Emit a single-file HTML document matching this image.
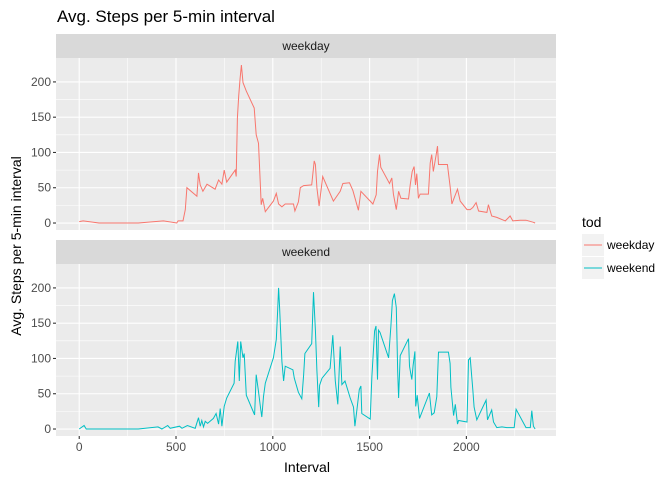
<!DOCTYPE html>
<html><head><meta charset="utf-8"><style>
body{margin:0;background:#fff;font-family:"Liberation Sans",Arial,sans-serif}
svg text{font-family:"Liberation Sans",Arial,sans-serif}
</style></head><body>
<svg id="c" width="672" height="480" xmlns="http://www.w3.org/2000/svg">
<rect width="672" height="480" fill="#fff"/>
<text x="57" y="22" font-size="17" fill="#000">Avg. Steps per 5-min interval</text>
<g id="panels"></g>
<text x="307" y="472" font-size="14" text-anchor="middle" fill="#000">Interval</text>
<text transform="translate(21,246) rotate(-90)" font-size="14" text-anchor="middle" fill="#000">Avg. Steps per 5-min interval</text>
<g>
<text x="582" y="227" font-size="14" fill="#000">tod</text>
<g>
<rect x="582" y="234" width="22" height="22" fill="#f2f2f2"/>
<line x1="584" x2="602" y1="245" y2="245" stroke="#F8766D" stroke-width="1"/>
<text x="607" y="249" font-size="12" fill="#000">weekday</text></g>
<g>
<rect x="582" y="257" width="22" height="22" fill="#f2f2f2"/>
<line x1="584" x2="602" y1="268" y2="268" stroke="#00BFC4" stroke-width="1"/>
<text x="607" y="272" font-size="12" fill="#000">weekend</text></g>
</g>
</svg>
<script>
const facets=["weekday","weekend"];
const xTicks=[0,500,1000,1500,2000];
const yTicks=[0,50,100,150,200];
const weekdayIntervals=[0,20,102,203,305,435,504,511,536,548,556,608,616,625,639,660,702,720,737,749,762,806,811,817,824,831,838,846,863,904,914,926,935,940,948,961,1003,1018,1030,1047,1064,1107,1114,1132,1142,1159,1201,1214,1220,1228,1239,1258,1313,1348,1362,1396,1414,1442,1455,1503,1517,1534,1541,1551,1558,1603,1615,1623,1638,1650,1662,1701,1710,1720,1730,1737,1744,1752,1761,1804,1813,1821,1829,1844,1851,1856,1902,1916,1925,1936,1954,1968,2003,2020,2033,2050,2063,2106,2114,2131,2157,2201,2226,2240,2278,2308,2346,2355];
const weekdaySteps=[2,3,0,0,0,3,0,3,3,19,50,38,71,54,45,55,48,61,55,75,58,75,66,149,180,205,224,199,187,163,125,113,59,26,35,16,31,42,27,23,27,27,17,30,50,53,54,88,83,50,24,66,31,45,56,57,46,18,45,31,27,40,73,97,79,56,64,41,19,45,35,34,54,73,80,54,70,35,41,41,85,97,73,97,109,83,83,52,27,35,48,31,19,19,22,29,17,15,26,10,8,3,10,3,4,4,1,0];
const weekendIntervals=[0,25,36,102,203,305,407,427,457,470,518,531,559,599,616,625,633,642,651,663,693,707,720,728,737,749,762,800,806,819,827,834,846,852,863,906,914,926,938,943,952,961,1003,1018,1025,1030,1035,1047,1056,1064,1104,1111,1132,1150,1159,1166,1201,1210,1220,1228,1237,1242,1254,1296,1310,1323,1336,1348,1357,1373,1400,1417,1424,1434,1447,1455,1460,1503,1512,1526,1533,1541,1546,1554,1598,1610,1618,1628,1638,1645,1650,1658,1701,1706,1718,1725,1734,1738,1746,1758,1809,1821,1834,1847,1856,1907,1916,1920,1934,1943,1954,1960,2003,2011,2020,2033,2040,2054,2102,2109,2131,2140,2157,2184,2209,2247,2257,2308,2330,2338,2346,2355];
const weekendSteps=[0,5,0,0,0,0,3,0,5,1,4,1,5,1,16,4,12,3,11,8,15,22,7,29,4,32,44,65,96,124,68,124,101,107,48,20,77,53,27,17,46,65,101,127,166,200,172,96,68,89,84,72,52,43,76,107,121,194,140,83,31,62,72,86,133,68,35,117,63,68,44,31,4,26,56,61,22,14,75,139,146,70,140,137,101,146,182,192,172,81,44,104,128,89,70,90,110,32,48,15,51,20,23,46,109,109,93,59,19,35,7,12,10,98,101,56,31,13,41,13,27,10,2,3,2,2,28,2,2,26,4,0];
const seriesX=[weekdayIntervals,weekendIntervals];
const seriesY=[weekdaySteps,weekendSteps];
const colors=["#F8766D","#00BFC4"];
const NS="http://www.w3.org/2000/svg";
const L=56,R=556;
const xMin=-120,xMax=2463,yMin=-9.9,yMax=233.9;
const panelTops=[58,264],panelH=172;
const xs=v=>L+(v-xMin)/(xMax-xMin)*(R-L);
function mk(tag,attrs,parent){const e=document.createElementNS(NS,tag);for(const k in attrs)e.setAttribute(k,attrs[k]);parent.appendChild(e);return e;}
const root=document.getElementById('panels');
facets.forEach((f,i)=>{
  const top=panelTops[i],bot=top+panelH;
  const ys=v=>bot-(v-yMin)/(yMax-yMin)*panelH;
  const g=mk('g',{},root);
  
  
  const strip=mk('rect',{x:L,y:top-24,width:R-L,height:24,fill:'#d9d9d9'},g);
  
  
  const st=mk('text',{x:(L+R)/2,y:top-8,'font-size':12,'text-anchor':'middle',fill:'#1a1a1a'},g);
  st.textContent=f;
  
  
  mk('rect',{x:L,y:top,width:R-L,height:panelH,fill:'#ebebeb'},g);
  for(let k=0;k<yTicks.length-1;k++){const v=(yTicks[k]+yTicks[k+1])/2;mk('line',{x1:L,x2:R,y1:ys(v),y2:ys(v),stroke:'#fff','stroke-width':0.55},g);}
  for(let k=0;k<xTicks.length;k++){const v=xTicks[k]+250;if(xs(v)<R)mk('line',{x1:xs(v),x2:xs(v),y1:top,y2:bot,stroke:'#fff','stroke-width':0.55},g);}
  yTicks.forEach(v=>{
    mk('line',{x1:L,x2:R,y1:ys(v),y2:ys(v),stroke:'#fff','stroke-width':1.1},g);
    mk('line',{x1:L-3,x2:L,y1:ys(v),y2:ys(v),stroke:'#333','stroke-width':1.1},g);
    const t=mk('text',{x:L-5,y:ys(v)+4,'font-size':12,'text-anchor':'end',fill:'#4d4d4d'},g);
    t.textContent=v;
    
    
  });
  xTicks.forEach(v=>{mk('line',{x1:xs(v),x2:xs(v),y1:top,y2:bot,stroke:'#fff','stroke-width':1.1},g);});
  const pts=seriesX[i].map((x,j)=>xs(x).toFixed(1)+','+ys(seriesY[i][j]).toFixed(1)).join(' ');
  const pl=mk('polyline',{points:pts,fill:'none',stroke:colors[i],'stroke-width':1},g);
  
  
  if(i===1){
    xTicks.forEach(v=>{
      mk('line',{x1:xs(v),x2:xs(v),y1:bot,y2:bot+3,stroke:'#333','stroke-width':1.1},g);
      const t=mk('text',{x:xs(v),y:bot+15,'font-size':12,'text-anchor':'middle',fill:'#4d4d4d'},g);
      t.textContent=v;
      
      
    });
  }
});
</script>
</body></html>
